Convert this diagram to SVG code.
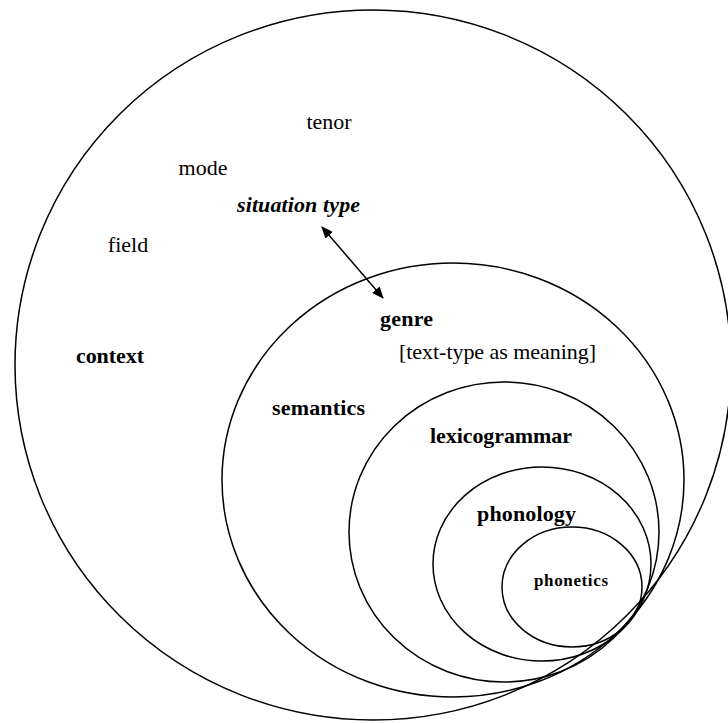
<svg xmlns="http://www.w3.org/2000/svg" width="728" height="723" viewBox="0 0 728 723">
<style>
.ring{fill:none;stroke:#000;stroke-width:1.5}
.t{font-family:"Liberation Serif","Times New Roman",serif;font-size:22px;fill:#000}
.b{font-weight:bold}
.bi{font-weight:bold;font-style:italic}
.conn{stroke:#000;stroke-width:1.5;fill:none}
</style>
<defs>
<marker id="ah" viewBox="0 0 12 10" refX="11" refY="5" markerWidth="12" markerHeight="10" orient="auto-start-reverse" markerUnits="userSpaceOnUse">
<path d="M0,0 L12,5 L0,10 z" fill="#000"/>
</marker>
</defs>
<rect width="728" height="723" fill="#fff"/>
<g id="context">
<ellipse class="ring" cx="373" cy="365" rx="358" ry="355"/>
<text class="t" x="329" y="129" text-anchor="middle">tenor</text>
<text class="t" x="203" y="175" text-anchor="middle">mode</text>
<text class="t bi" x="237" y="212" textLength="123">situation type</text>
<text class="t" x="128" y="252" text-anchor="middle">field</text>
<text class="t b" x="76" y="363" textLength="68">context</text>
</g>
<g id="semantics">
<ellipse class="ring" cx="453" cy="480" rx="231" ry="217"/>
<text class="t b" x="380" y="326" textLength="53">genre</text>
<text class="t" x="399" y="359" textLength="197">[text-type as meaning]</text>
<text class="t b" x="272" y="415" textLength="93">semantics</text>
</g>
<g id="lexicogrammar">
<ellipse class="ring" cx="504" cy="532" rx="155" ry="150"/>
<text class="t b" x="430" y="443" textLength="142">lexicogrammar</text>
</g>
<g id="phonology">
<ellipse class="ring" cx="542" cy="564" rx="109" ry="97"/>
<text class="t b" x="477" y="521" textLength="99">phonology</text>
</g>
<g id="phonetics">
<ellipse class="ring" cx="572" cy="587" rx="70" ry="60"/>
<text class="t b" x="534" y="586" style="font-size:17px" textLength="74">phonetics</text>
</g>
<g id="connectors">
<line class="conn" x1="322" y1="227" x2="383" y2="298" marker-start="url(#ah)" marker-end="url(#ah)"/>
</g>
</svg>
